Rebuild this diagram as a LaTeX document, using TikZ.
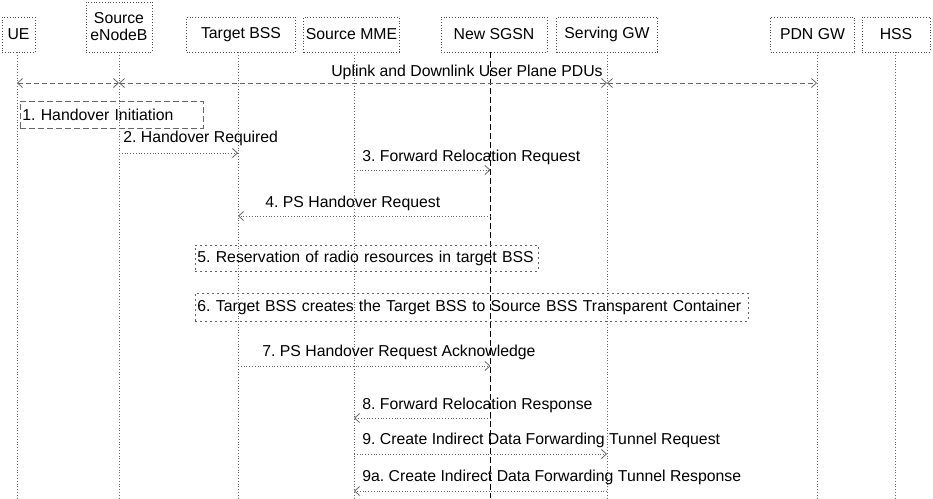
\documentclass[tikz,border=0pt]{standalone}
\usepackage{fontspec}
\setmainfont{Liberation Sans}
\usetikzlibrary{arrows.meta}
\frenchspacing

\tikzset{
    actor/.style={draw=black!70, dotted, thick, minimum height=35pt, inner sep=2pt, font=\fontsize{15.8}{17}\selectfont},
    life/.style={black!60, dotted, thick},
    plane/.style={black!60, dash pattern=on 5pt off 3pt, thick, {Straight Barb[length=5pt,width=9pt]}-{Straight Barb[length=5pt,width=9pt]}},
    msg/.style={black!60, dotted, thick, -{Straight Barb[length=5pt,width=9pt]}},
    lbl/.style={anchor=west, inner sep=0pt, font=\fontsize{15.8}{17}\selectfont},
    notebox/.style={draw=black!60, thick, anchor=north west, inner sep=2pt, align=left, font=\fontsize{15.8}{17}\selectfont}
}

\begin{document}
\begin{tikzpicture}[x=1pt, y=-1pt, thick]
        \useasboundingbox (0,0) rectangle (933,498);

        % PARTICIPANTS
        \node[actor, minimum width=33pt] (ue) at (18.5, 34.5) {UE};
        \node[actor, minimum width=66pt, minimum height=50pt, align=center] (enb) at (119, 27) {Source\\eNodeB};
        \node[actor, minimum width=109pt] (tbss) at (241, 34.5) {Target BSS};
        \node[actor, minimum width=95pt] (mme) at (351.5, 34.5) {Source MME};
        \node[actor, minimum width=106pt] (sgsn) at (494, 34.5) {New SGSN};
        \node[actor, minimum width=101pt] (sgw) at (607, 34.5) {Serving GW};
        \node[actor, minimum width=84pt] (pgw) at (812.5, 34.5) {PDN GW};
        \node[actor, minimum width=68pt] (hss) at (896, 34.5) {HSS};

        % LIFELINES
        \coordinate (ueL) at ([xshift=-1.5pt]ue.south);
        \coordinate (enbL) at (enb.south);
        \coordinate (tbssL) at ([xshift=-3pt]tbss.south);
        \coordinate (mmeL) at ([xshift=2.5pt]mme.south);
        \coordinate (sgsnL) at ([xshift=-3.5pt]sgsn.south);
        \coordinate (sgwL) at (sgw.south);
        \coordinate (pgwL) at ([xshift=4.5pt]pgw.south);
        \coordinate (hssL) at ([xshift=-1pt]hss.south);
        \draw[life] (ueL) -- (ueL |- 0,498);
        \draw[life] (enbL) -- (enbL |- 0,498);
        \draw[life] (tbssL) -- (tbssL |- 0,498);
        \draw[life] (mmeL) -- (mmeL |- 0,498);
        \draw[black, dash pattern=on 6pt off 3pt] (sgsnL) -- (sgsnL |- 0,498);
        \draw[life] (sgwL) -- (sgwL |- 0,498);
        \draw[life] (pgwL) -- (pgwL |- 0,498);
        \draw[life] (hssL) -- (hssL |- 0,498);

        % USER PLANE
        \node[lbl, anchor=center] (pdus) at (467, 72) {Uplink and Downlink User Plane PDUs};
        \draw[plane] (ueL |- 0,83) -- (enbL |- 0,83);
        \draw[plane] (enbL |- 0,83) -- (sgwL |- 0,83);
        \draw[plane] (sgwL |- 0,83) -- (pgwL |- 0,83);

        % MESSAGE 1
        \node[notebox, dash pattern=on 6pt off 3pt, text width=179pt, minimum height=27pt] (init) at (20, 101) {1. Handover Initiation};
        % MESSAGE 2
        \node[lbl] (m2) at (123, 138) {2. Handover Required};
        \draw[msg] (enbL |- 0,153) -- (tbssL |- 0,153);
        % MESSAGE 3
        \node[lbl] (m3) at (362, 157) {3. Forward Relocation Request};
        \draw[msg] (mmeL |- 0,170) -- (sgsnL |- 0,170);
        % MESSAGE 4
        \node[lbl] (m4) at (265, 203) {4. PS Handover Request};
        \draw[msg] (sgsnL |- 0,216) -- (tbssL |- 0,216);
        % MESSAGE 5
        \node[notebox, dash pattern=on 2pt off 3pt, text width=339pt, minimum height=26pt] (resv) at (195, 245) {5. Reservation of radio resources in target BSS};
        % MESSAGE 6
        \node[notebox, dash pattern=on 2pt off 3pt, text width=549pt, minimum height=28pt] (cont) at (195, 293) {6. Target BSS creates the Target BSS to Source BSS Transparent Container};
        % MESSAGE 7
        \node[lbl] (m7) at (262, 352) {7. PS Handover Request Acknowledge};
        \draw[msg] (tbssL |- 0,366) -- (sgsnL |- 0,366);
        % MESSAGE 8
        \node[lbl] (m8) at (362, 405) {8. Forward Relocation Response};
        \draw[msg] (sgsnL |- 0,418) -- (mmeL |- 0,418);
        % MESSAGE 9
        \node[lbl] (m9) at (362, 440) {9. Create Indirect Data Forwarding Tunnel Request};
        \draw[msg] (mmeL |- 0,454) -- (sgwL |- 0,454);
        % MESSAGE 9a
        \node[lbl] (m9a) at (362, 477) {9a. Create Indirect Data Forwarding Tunnel Response};
        \draw[msg] (sgwL |- 0,491) -- (mmeL |- 0,491);
\end{tikzpicture}
\end{document}
